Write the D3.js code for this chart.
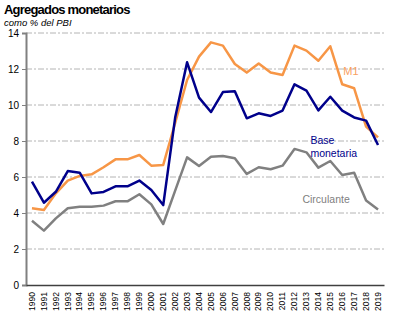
<!DOCTYPE html>
<meta charset="utf-8">
<script src="https://d3js.org/d3.v7.min.js"></script>
<style>
  body { margin: 0; background: #fff; }
  text { font-family: "Liberation Sans", Arial, sans-serif; }
</style>
<div id="chart"></div>
<script>
  // data, % of GDP
  var years = d3.range(1990, 2020).map(String);
  var m1 = [4.26, 4.17, 5.09, 5.8, 6.06, 6.15, 6.54, 6.98, 6.98, 7.22, 6.63, 6.67, 9.0, 11.39,
            12.69, 13.48, 13.3, 12.28, 11.8, 12.31, 11.8, 11.67, 13.3, 13.02, 12.46, 13.26, 11.15, 10.93, 8.8, 8.2];
  var base = [5.74, 4.57, 5.18, 6.33, 6.24, 5.09, 5.17, 5.48, 5.48, 5.8, 5.28, 4.44, 9.3, 12.37,
              10.41, 9.61, 10.72, 10.76, 9.26, 9.54, 9.39, 9.69, 11.15, 10.8, 9.7, 10.46, 9.69, 9.31, 9.13, 7.78];
  var circ = [3.57, 3.02, 3.7, 4.26, 4.35, 4.35, 4.41, 4.65, 4.65, 5.04, 4.48, 3.39, 5.24, 7.09,
              6.61, 7.13, 7.17, 7.04, 6.17, 6.54, 6.43, 6.63, 7.56, 7.37, 6.52, 6.89, 6.11, 6.24, 4.69, 4.2];
  var yTicks = [0, 2, 4, 6, 8, 10, 12, 14];

  var W = 399, H = 322;
  var margin = {top: 33, right: 15, bottom: 37, left: 26};
  var width = W - margin.left - margin.right,
      height = H - margin.top - margin.bottom;

  var svg = d3.select("#chart").append("svg")
      .attr("width", W).attr("height", H);

  svg.append("text").attr("x", 4).attr("y", 14)
    .style("font-size", "13px").style("font-weight", "bold")
    .style("letter-spacing", "-0.8px")
    .text("Agregados monetarios");
  svg.append("text").attr("x", 4).attr("y", 26)
    .style("font-size", "9.5px").style("font-style", "italic")
    .text("como % del PBI");

  var g = svg.append("g")
      .attr("transform", "translate(" + margin.left + "," + margin.top + ")");

  var x = d3.scaleBand().domain(years).range([0, width]);
  var y = d3.scaleLinear().domain([0, 14]).range([height, 0]);

  // grid
  g.append("g").selectAll("line")
    .data(yTicks.filter(function(d) { return d > 0; }))
    .enter().append("line")
      .attr("x1", 0).attr("x2", width)
      .attr("y1", function(d) { return y(d); })
      .attr("y2", function(d) { return y(d); })
      .attr("stroke", "#b4b4b4")
      .attr("stroke-dasharray", "6,2,2,2");

  // y axis
  var yAxis = g.append("g")
    .call(d3.axisLeft(y).tickValues(yTicks).tickSize(4).tickFormat(d3.format("d")));
  yAxis.select(".domain").attr("stroke", "#808080").attr("stroke-width", 2);
  yAxis.selectAll(".tick line").attr("stroke", "#808080");
  yAxis.selectAll("text").style("font-size", "10px").attr("fill", "#000")
    .attr("font-family", null);

  // x axis
  var xAxis = g.append("g")
    .attr("transform", "translate(0," + height + ")")
    .call(d3.axisBottom(x).tickSize(0).tickSizeOuter(0));
  xAxis.select(".domain").attr("stroke", "#404040").attr("stroke-width", 1.5);
  xAxis.selectAll("text")
    .style("font-size", "8.5px").attr("fill", "#000")
    .attr("font-family", null)
    .attr("transform", "rotate(-90)")
    .attr("text-anchor", "end")
    .attr("x", -7).attr("y", 0).attr("dy", "0.32em");

  var line = d3.line()
    .x(function(d, i) { return x(years[i]) + x.bandwidth() / 2; })
    .y(function(d) { return y(d); });

  var series = [
    {values: circ, color: "#808080"},
    {values: m1, color: "#f79646"},
    {values: base, color: "#00008b"}
  ];
  g.selectAll(".series").data(series).enter().append("path")
    .attr("class", "series")
    .attr("d", function(d) { return line(d.values); })
    .attr("fill", "none")
    .attr("stroke", function(d) { return d.color; })
    .attr("stroke-width", 2.5)
    .attr("stroke-linejoin", "round");

  // labels
  g.append("text").attr("x", x("2016") + 7).attr("y", y(11.65))
    .style("font-size", "11px").attr("fill", "#f9a060").text("M1");
  g.append("text").attr("x", x("2014") - 2).attr("y", y(7.85))
    .style("font-size", "10.5px").attr("fill", "#00008b").text("Base");
  g.append("text").attr("x", x("2014") - 2).attr("y", y(7.1))
    .style("font-size", "10.5px").attr("fill", "#00008b").text("monetaria");
  g.append("text").attr("x", x("2013") + 2).attr("y", y(4.58))
    .style("font-size", "10.5px").attr("fill", "#808080").text("Circulante");
</script>
